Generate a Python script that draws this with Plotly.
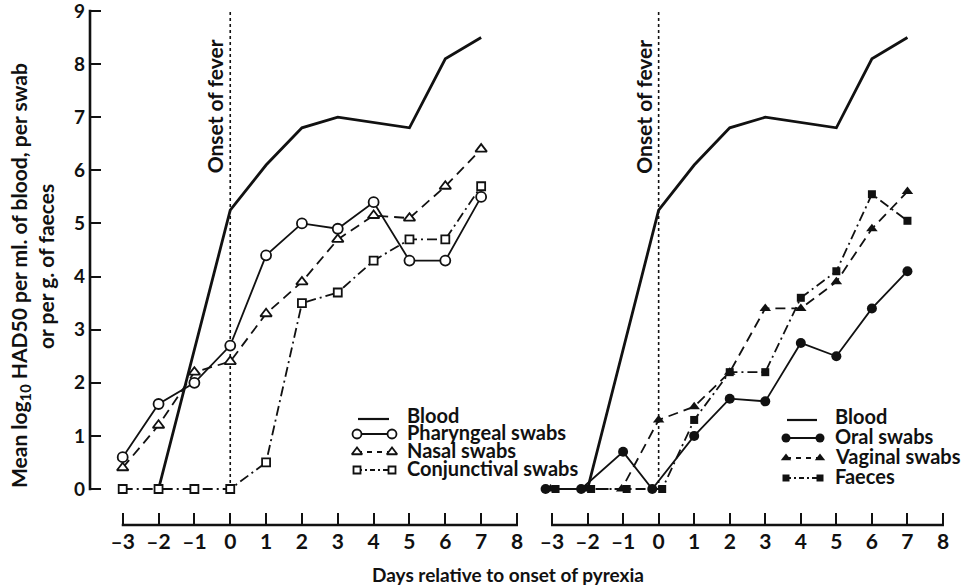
import plotly.graph_objects as go

# ---------------- data ----------------
days = [-3, -2, -1, 0, 1, 2, 3, 4, 5, 6, 7]
blood_days = [-2, 0, 1, 2, 3, 4, 5, 6, 7]
blood = [0, 5.25, 6.1, 6.8, 7.0, 6.9, 6.8, 8.1, 8.5]
pharyngeal = [0.6, 1.6, 2.0, 2.7, 4.4, 5.0, 4.9, 5.4, 4.3, 4.3, 5.5]
nasal = [0.4, 1.2, 2.2, 2.4, 3.3, 3.9, 4.7, 5.15, 5.1, 5.7, 6.4]
conjunctival = [0, 0, 0, 0, 0.5, 3.5, 3.7, 4.3, 4.7, 4.7, 5.7]
oral = [0, 0, 0.7, 0, 1.0, 1.7, 1.65, 2.75, 2.5, 3.4, 4.1]
vaginal = [0, 0, 0, 1.3, 1.55, 2.2, 3.4, 3.4, 3.9, 4.9, 5.6]
faeces = [0, 0, 0, 0, 1.3, 2.2, 2.2, 3.6, 4.1, 5.55, 5.05]

x_ticks = [-3, -2, -1, 0, 1, 2, 3, 4, 5, 6, 7, 8]
x_ticktext = ["\u2013" + str(-v) if v < 0 else str(v) for v in x_ticks]
y_ticks = [0, 1, 2, 3, 4, 5, 6, 7, 8, 9]

# ---------------- geometry (pixels) ----------------
W, H = 969, 587
FONT = "Lato"
BLACK = "#111111"

# left panel: x=-3 at 122.7px, x=8 at 517px ; y=0 at 489px, y=9 at 11px
LX0, LX1 = 90, 530
RX0, RX1 = 540, 960
YTOP, YBOT = 4, 525
lsc = (517 - 122.7) / 11
rsc = (943 - 552) / 11
ysc = (489 - 11) / 9
lrange = [-3 - (122.7 - LX0) / lsc, 8 + (LX1 - 517) / lsc]
rrange = [-3 - (552 - RX0) / rsc, 8 + (RX1 - 943) / rsc]
yrange = [-(YBOT - 489) / ysc, 9 + (11 - YTOP) / ysc]


def px(x):
    return x / W


def py(y):
    return (H - y) / H


def ydata_to_paper(v):
    return py(489 - v * ysc)


def lx_to_paper(v):
    return px(122.7 + (v + 3) * lsc)


def rx_to_paper(v):
    return px(552 + (v + 3) * rsc)


fig = go.Figure()

open_marker = dict(color="white", line=dict(color=BLACK, width=1.8))
filled_marker = dict(color=BLACK, line=dict(color=BLACK, width=0))

DASH = "10px,6px"
DASHDOT = "10px,4px,2px,4px"

# ---------------- left panel ----------------
fig.add_trace(go.Scatter(x=blood_days, y=blood, mode="lines",
                         line=dict(color=BLACK, width=2.8), xaxis="x", yaxis="y"))
fig.add_trace(go.Scatter(x=days, y=conjunctival, mode="lines+markers",
                         line=dict(color=BLACK, width=1.8, dash=DASHDOT),
                         marker=dict(symbol="square", size=8, **open_marker),
                         xaxis="x", yaxis="y"))
fig.add_trace(go.Scatter(x=days, y=nasal, mode="lines+markers",
                         line=dict(color=BLACK, width=1.8, dash=DASH),
                         marker=dict(symbol="triangle-up", size=10, **open_marker),
                         xaxis="x", yaxis="y"))
fig.add_trace(go.Scatter(x=days, y=pharyngeal, mode="lines+markers",
                         line=dict(color=BLACK, width=1.8),
                         marker=dict(symbol="circle", size=10, **open_marker),
                         xaxis="x", yaxis="y"))

# ---------------- right panel ----------------
# small horizontal dodge of coincident zero points (display only)
DODGE = {"oral": -0.18, "vaginal": -0.04, "faeces": 0.1}


def dodge(vals, off):
    return [d + (off if v == 0 else 0) for d, v in zip(days, vals)]


fig.add_trace(go.Scatter(x=blood_days, y=blood, mode="lines",
                         line=dict(color=BLACK, width=2.8), xaxis="x2", yaxis="y"))
fig.add_trace(go.Scatter(x=dodge(faeces, DODGE["faeces"]), y=faeces, mode="lines+markers",
                         line=dict(color=BLACK, width=1.8, dash=DASHDOT),
                         marker=dict(symbol="square", size=8, **filled_marker),
                         xaxis="x2", yaxis="y"))
fig.add_trace(go.Scatter(x=dodge(vaginal, DODGE["vaginal"]), y=vaginal, mode="lines+markers",
                         line=dict(color=BLACK, width=1.8, dash=DASH),
                         marker=dict(symbol="triangle-up", size=10, **filled_marker),
                         xaxis="x2", yaxis="y"))
fig.add_trace(go.Scatter(x=dodge(oral, DODGE["oral"]), y=oral, mode="lines+markers",
                         line=dict(color=BLACK, width=1.8),
                         marker=dict(symbol="circle", size=10, **filled_marker),
                         xaxis="x2", yaxis="y"))

# ---------------- legends (drawn on a pixel overlay axis) ----------------
legend_left = [
    ("Blood", None, None, 2.2),
    ("Pharyngeal swabs", "circle", "solid", 1.8),
    ("Nasal swabs", "triangle-up", "5px,5px", 1.8),
    ("Conjunctival swabs", "square", "5px,3px,2px,3px", 1.8),
]
legend_right = [
    ("Blood", None, None, 2.2),
    ("Oral swabs", "circle", "solid", 1.8),
    ("Vaginal swabs", "triangle-up", "5px,5px", 1.8),
    ("Faeces", "square", "5px,3px,2px,3px", 1.8),
]
left_rows = [417, 434, 452, 470]
right_rows = [418, 438, 458, 478]

annotations = []
LEG_FONT = dict(family=FONT, size=20, color=BLACK, weight="bold")


def draw_legend(items, rows, xk0, xk1, xt, filled):
    for (label, sym, dash, lw), yr in zip(items, rows):
        if sym is None:
            fig.add_trace(go.Scatter(x=[xk0 + 1, xk1 - 3], y=[yr + 2, yr + 2], mode="lines",
                                     line=dict(color=BLACK, width=lw),
                                     xaxis="x3", yaxis="y3"))
        else:
            mk = filled_marker if filled else open_marker
            size = 9
            if sym == "square":
                size = 7
            fig.add_trace(go.Scatter(x=[xk0, xk1], y=[yr, yr], mode="lines+markers",
                                     line=dict(color=BLACK, width=lw, dash=dash),
                                     marker=dict(symbol=sym, size=size, **mk),
                                     xaxis="x3", yaxis="y3"))
        annotations.append(dict(x=px(xt), y=py(yr - 2), xref="paper", yref="paper",
                                text=label, showarrow=False, xanchor="left",
                                yanchor="middle", font=LEG_FONT))


draw_legend(legend_left, left_rows, 357, 392, 405, False)
draw_legend(legend_right, right_rows, 786, 820, 833, True)

# ---------------- axis lines as shapes ----------------
shapes = []
axis_w = 2.6
shapes.append(dict(type="line", xref="paper", yref="paper",
                   x0=px(LX0), x1=px(LX0),
                   y0=ydata_to_paper(min(y_ticks)) - 0.002, y1=ydata_to_paper(max(y_ticks)) + 0.002,
                   line=dict(color=BLACK, width=axis_w)))
shapes.append(dict(type="line", xref="paper", yref="paper",
                   x0=lx_to_paper(min(x_ticks)) - 0.001, x1=lx_to_paper(max(x_ticks)) + 0.001,
                   y0=py(YBOT), y1=py(YBOT),
                   line=dict(color=BLACK, width=axis_w)))
shapes.append(dict(type="line", xref="paper", yref="paper",
                   x0=rx_to_paper(min(x_ticks)) - 0.001, x1=rx_to_paper(max(x_ticks)) + 0.001,
                   y0=py(YBOT), y1=py(YBOT),
                   line=dict(color=BLACK, width=axis_w)))
# onset of fever dotted lines
for xr in ["x", "x2"]:
    shapes.append(dict(type="line", xref=xr, yref="y", x0=0, x1=0, y0=0, y1=9.0,
                       layer="below", line=dict(color=BLACK, width=1.6, dash="dot")))
    annotations.append(dict(x=0, y=7.2, xref=xr, yref="y", text="Onset of fever",
                            textangle=-90, showarrow=False, xanchor="right", yanchor="middle",
                            xshift=-1,
                            font=dict(family=FONT, size=21, color=BLACK, weight="bold")))

# axis titles
annotations.append(dict(x=px(20), y=py(276), xref="paper", yref="paper",
                        text="Mean log<sub>10</sub> HAD50 per ml. of blood, per swab",
                        textangle=-90, showarrow=False, xanchor="center", yanchor="middle",
                        font=dict(family=FONT, size=21, color=BLACK, weight="bold")))
annotations.append(dict(x=px(45), y=py(267), xref="paper", yref="paper",
                        text="or per g. of faeces",
                        textangle=-90, showarrow=False, xanchor="center", yanchor="middle",
                        font=dict(family=FONT, size=21, color=BLACK, weight="bold")))
annotations.append(dict(x=px(508), y=py(574), xref="paper", yref="paper",
                        text="Days relative to onset of pyrexia",
                        showarrow=False, xanchor="center", yanchor="middle",
                        font=dict(family=FONT, size=19, color=BLACK, weight="bold")))

xtickfont = dict(family=FONT, size=21, color=BLACK, weight="bold")
ytickfont = dict(family=FONT, size=19, color=BLACK, weight="bold")
xcommon = dict(showgrid=False, zeroline=False, showline=False, ticks="inside", ticklen=12,
               tickwidth=2.4, tickcolor=BLACK, tickvals=x_ticks, ticktext=x_ticktext,
               tickfont=xtickfont, ticklabelstandoff=2, ticklabeloverflow="allow",
               automargin=False, fixedrange=True)

fig.update_layout(
    template="none",
    width=W, height=H,
    margin=dict(l=0, r=0, t=0, b=0, pad=0, autoexpand=False),
    paper_bgcolor="white", plot_bgcolor="rgba(0,0,0,0)",
    showlegend=False,
    xaxis=dict(domain=[px(LX0), px(LX1)], range=lrange, anchor="y", **xcommon),
    xaxis2=dict(domain=[px(RX0), px(RX1)], range=rrange, anchor="y", **xcommon),
    yaxis=dict(domain=[py(YBOT), py(YTOP)], range=yrange, anchor="x",
               showgrid=False, zeroline=False, showline=False, ticks="inside", ticklen=11,
               tickwidth=2.4, tickcolor=BLACK, tickvals=y_ticks, tickfont=ytickfont,
               ticklabelstandoff=4, ticklabeloverflow="allow", automargin=False,
               fixedrange=True),
    xaxis3=dict(domain=[0, 1], range=[0, W], anchor="y3", visible=False, fixedrange=True,
                automargin=False),
    yaxis3=dict(domain=[0, 1], range=[H, 0], anchor="x3", visible=False, fixedrange=True,
                automargin=False),
    shapes=shapes,
    annotations=annotations,
)

fig.write_html("out.html")
